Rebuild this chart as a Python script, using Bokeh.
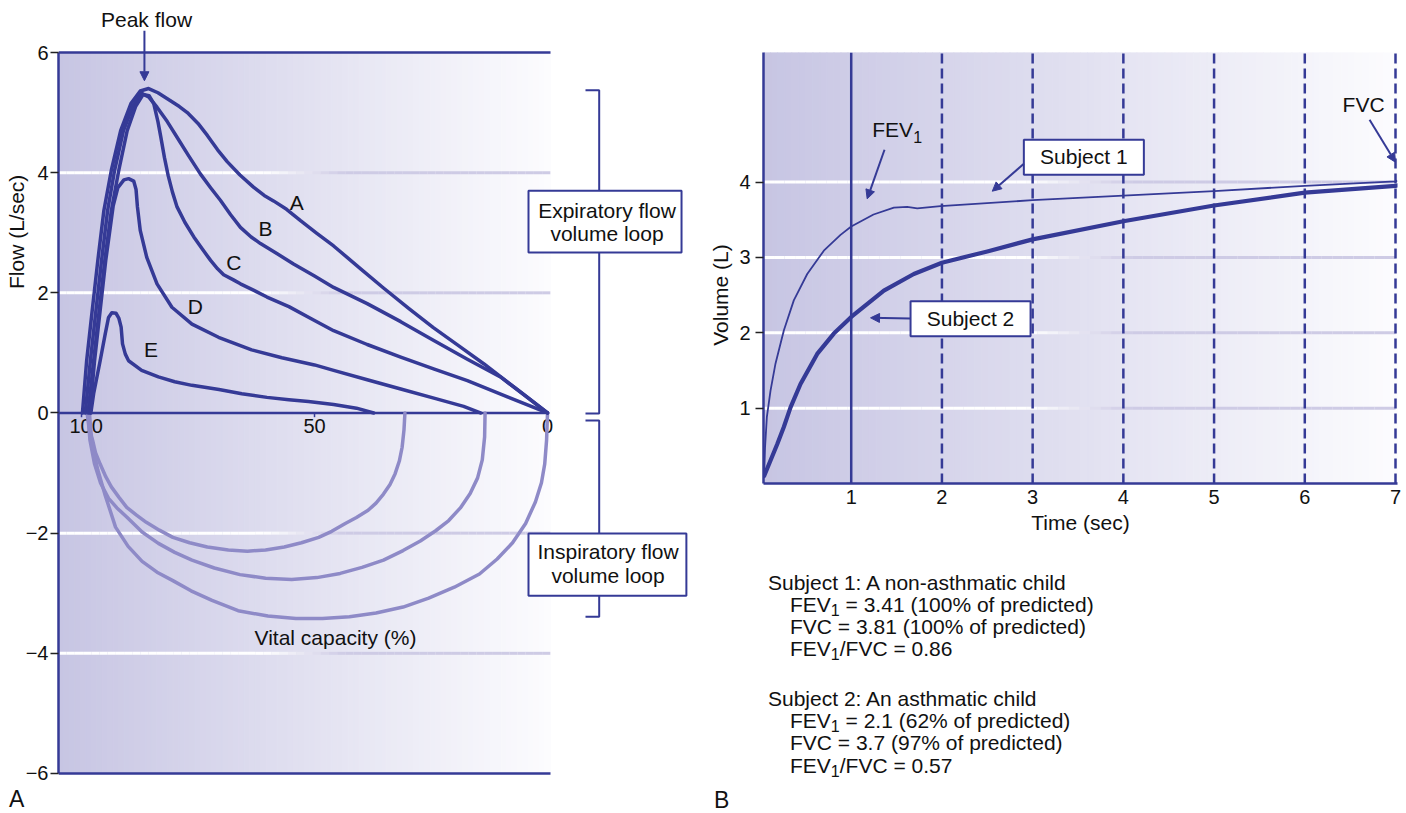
import numpy as np
from bokeh.plotting import figure
from bokeh.models import Range1d, FixedTicker, CustomJSTickFormatter, Arrow, NormalHead, Div, Title
from bokeh.layouts import row, column
from bokeh.embed import file_html
from bokeh.resources import INLINE
from bokeh.core.properties import value

FONT = "Liberation Sans"
DARK = "#353a96"
LOOPC = "#8e8ac7"
TXT = "#111111"
BG_L = (199, 197, 227)
BG_R = (252, 252, 254)
GRID_R = (206, 203, 229)

# ---------------- Panel A: flow-volume loops ----------------
flow_ticks = [-6, -4, -2, 0, 2, 4, 6]
flow_grid = [-4, -2, 2, 4]
vc_ticks = [100, 50, 0]
vc_tick_labels = ["100", "50", "0"]

A_vc = [99.8, 98.9, 97.7, 96.5, 95.2, 93.6, 91.6, 89.4, 87.4, 85.6, 83.6, 81.0, 79.0, 77.3, 75.0, 73.0, 70.8,
        68.7, 66.0, 63.1, 60.8, 58.8, 56.0, 53.0, 49.5, 45.9, 40.1, 35.2, 29.8, 24.5, 19.1, 13.7, 7.0, 0.0]
A_flow = [0.0, 0.87, 1.71, 2.54, 3.37, 4.04, 4.70, 5.15, 5.36, 5.40, 5.33, 5.20, 5.10, 5.00, 4.82, 4.62, 4.38,
          4.18, 3.96, 3.76, 3.62, 3.53, 3.39, 3.20, 2.99, 2.78, 2.40, 2.08, 1.74, 1.42, 1.12, 0.82, 0.42, 0.0]
B_vc = [99.2, 98.1, 96.9, 95.7, 94.4, 92.9, 91.0, 88.9, 87.1, 85.6, 83.8, 81.6, 79.5, 77.0, 74.5, 72.3, 70.2,
        68.0, 65.9, 63.6, 61.6, 58.0, 54.5, 50.0, 45.9, 38.7, 31.5, 24.5, 17.3, 10.1, 5.0, 0.0]
B_flow = [0.0, 0.87, 1.71, 2.54, 3.37, 4.04, 4.70, 5.12, 5.32, 5.26, 5.09, 4.85, 4.59, 4.28, 3.98, 3.75, 3.54,
          3.30, 3.09, 2.93, 2.82, 2.65, 2.48, 2.28, 2.09, 1.82, 1.52, 1.21, 0.90, 0.60, 0.30, 0.0]
C_vc = [98.6, 97.4, 96.2, 95.0, 93.6, 92.0, 90.2, 88.4, 86.8, 85.5, 84.5, 83.6, 83.0, 82.2, 81.4, 80.5, 79.5,
        77.8, 75.9, 74.0, 72.3, 70.8, 69.5, 67.5, 65.9, 63.0, 60.2, 55.5, 50.5, 45.9, 38.7, 31.5, 24.3, 17.2, 8.6, 0.0]
C_flow = [0.0, 0.87, 1.71, 2.54, 3.37, 4.04, 4.70, 5.10, 5.30, 5.28, 5.15, 4.85, 4.60, 4.25, 3.95, 3.68, 3.43,
          3.17, 2.93, 2.72, 2.54, 2.40, 2.30, 2.22, 2.15, 2.04, 1.93, 1.77, 1.56, 1.37, 1.14, 0.93, 0.73, 0.54, 0.27, 0.0]
D_vc = [98.2, 97.2, 96.0, 94.8, 93.9, 93.2, 92.2, 90.9, 89.9, 88.8, 88.3, 88.0, 87.4, 86.0, 83.8, 80.6, 76.3,
        70.6, 63.5, 57.0, 50.0, 45.9, 38.5, 31.5, 24.0, 18.0, 14.4]
D_flow = [0.0, 0.87, 1.71, 2.54, 3.05, 3.45, 3.75, 3.88, 3.90, 3.86, 3.72, 3.43, 3.04, 2.59, 2.15, 1.76, 1.48,
          1.26, 1.05, 0.92, 0.80, 0.71, 0.55, 0.40, 0.24, 0.11, 0.0]
E_vc = [98.0, 97.4, 96.0, 94.9, 94.2, 93.5, 92.6, 92.0, 91.5, 91.2, 90.6, 89.9, 87.1, 83.5, 80.0, 76.3, 70.5,
        65.6, 60.2, 55.5, 51.3, 45.9, 41.0, 37.3]
E_flow = [0.0, 0.32, 0.87, 1.32, 1.59, 1.67, 1.66, 1.58, 1.43, 1.15, 0.98, 0.87, 0.71, 0.60, 0.52, 0.46, 0.39,
          0.32, 0.26, 0.22, 0.19, 0.14, 0.08, 0.0]
exp_curves = [(A_vc, A_flow), (B_vc, B_flow), (C_vc, C_flow), (D_vc, D_flow), (E_vc, E_flow)]
curve_names = ["A", "B", "C", "D", "E"]
curve_label_vc = [53.8, 60.5, 67.3, 75.6, 85.1]
curve_label_flow = [3.50, 3.07, 2.51, 1.77, 1.05]

L1_vc = [98.8, 98.3, 97.6, 97.0, 96.0, 94.8, 93.6, 92.0, 90.3, 88.2, 86.1, 83.3, 80.4, 76.8, 73.0, 68.5, 64.4,
         60.5, 56.5, 52.8, 49.1, 46.3, 43.4, 41.0, 38.5, 36.8, 35.2, 33.8, 32.7, 31.8, 31.2, 30.8, 30.6]
L1_flow = [0.0, -0.30, -0.46, -0.66, -0.85, -1.06, -1.23, -1.40, -1.57, -1.70, -1.82, -1.95, -2.07, -2.16, -2.23,
           -2.28, -2.30, -2.28, -2.23, -2.16, -2.07, -1.97, -1.84, -1.74, -1.62, -1.50, -1.35, -1.19, -1.01, -0.80,
           -0.57, -0.28, 0.0]
L2_vc = [98.6, 98.2, 97.2, 95.9, 94.2, 92.4, 90.3, 87.0, 83.5, 80.0, 76.3, 71.5, 66.0, 60.5, 54.9, 49.5, 44.5,
         39.8, 35.2, 31.0, 27.3, 24.0, 21.2, 18.7, 16.6, 15.0, 14.0, 13.5, 13.4]
L2_flow = [0.0, -0.45, -0.85, -1.17, -1.42, -1.58, -1.73, -1.98, -2.17, -2.32, -2.45, -2.58, -2.69, -2.75, -2.77,
           -2.74, -2.67, -2.57, -2.45, -2.29, -2.13, -1.96, -1.79, -1.58, -1.34, -1.08, -0.78, -0.40, 0.0]
L3_vc = [98.3, 98.0, 97.6, 96.5, 95.0, 92.7, 90.0, 87.0, 83.8, 80.4, 76.5, 72.0, 66.4, 60.0, 54.0, 48.3, 42.5,
         36.8, 31.0, 25.5, 20.0, 14.6, 10.8, 7.5, 4.7, 2.6, 1.3, 0.6, 0.2, 0.0]
L3_flow = [0.0, -0.30, -0.57, -0.95, -1.35, -1.90, -2.22, -2.47, -2.65, -2.79, -2.96, -3.12, -3.29, -3.38, -3.42,
           -3.42, -3.39, -3.33, -3.23, -3.08, -2.90, -2.68, -2.43, -2.16, -1.84, -1.48, -1.16, -0.85, -0.45, 0.0]
insp_loops = [(L1_vc, L1_flow), (L2_vc, L2_flow), (L3_vc, L3_flow)]

# ---------------- Panel B: volume-time curves ----------------
time_ticks = [1, 2, 3, 4, 5, 6, 7]
vol_ticks = [1, 2, 3, 4]
solid_t = [1]
dashed_t = [2, 3, 4, 5, 6, 7]
S1_t = [0.040, 0.050, 0.070, 0.110, 0.165, 0.257, 0.367, 0.515, 0.698, 0.882, 1.000, 1.246, 1.470, 1.617, 1.728,
        1.984, 3.0, 4.0, 5.0, 6.0, 7.0, 7.02]
S1_v = [0.10, 0.48, 0.88, 1.23, 1.59, 2.03, 2.43, 2.78, 3.09, 3.30, 3.41, 3.57, 3.66, 3.67, 3.65, 3.68, 3.76, 3.82,
        3.88, 3.95, 4.01, 4.02]
S2_t = [0.040, 0.184, 0.257, 0.331, 0.441, 0.625, 0.808, 1.000, 1.360, 1.690, 2.000, 2.500, 3.000, 4.000, 5.000,
        6.000, 7.000, 7.02]
S2_v = [0.10, 0.52, 0.75, 1.01, 1.32, 1.72, 1.99, 2.21, 2.56, 2.78, 2.93, 3.08, 3.24, 3.48, 3.69, 3.86, 3.95, 3.955]

block_lines = [
    ("", "Subject 1: A non-asthmatic child"),
    ("FEV", " = 3.41 (100% of predicted)"),
    ("", "FVC = 3.81 (100% of predicted)"),
    ("FEV", "/FVC = 0.86"),
    ("", "Subject 2: An asthmatic child"),
    ("FEV", " = 2.1 (62% of predicted)"),
    ("", "FVC = 3.7 (97% of predicted)"),
    ("FEV", "/FVC = 0.57"),
]
block_indent = [False, True, True, True, False, True, True, True]


def grad_colors(c0, c1, n):
    out = []
    for i in range(n):
        f = (i + 0.5) / n
        out.append("#%02x%02x%02x" % tuple(int(round(a + (b - a) * f)) for a, b in zip(c0, c1)))
    return out


def add_gradient(p, x0, x1, y0, y1, n=90):
    edges = np.linspace(x0, x1, n + 1)
    cols = grad_colors(BG_L, BG_R, n)
    p.quad(left=edges[:-1], right=edges[1:], bottom=y0, top=y1, fill_color=cols, line_color=cols, line_width=1)


def add_grid(p, x0, x1, ys, width=3, n=60):
    edges = np.linspace(x0, x1, n + 1)
    cols = []
    for i in range(n):
        f = (i + 0.5) / n
        w = min(max((f - 0.42) / 0.16, 0.0), 1.0)
        cols.append("#%02x%02x%02x" % tuple(int(round(255 + (g - 255) * w)) for g in GRID_R))
    for y in ys:
        p.segment(x0=edges[:-1], x1=edges[1:], y0=y, y1=y, line_color=cols, line_width=width)


def style_axis(ax, size="20px"):
    ax.axis_line_color = DARK
    ax.axis_line_width = 2.5
    ax.major_tick_line_color = "#222222"
    ax.major_tick_line_width = 1.5
    ax.minor_tick_out = 0
    ax.minor_tick_in = 0
    ax.major_tick_in = 0
    ax.major_label_text_font = FONT
    ax.major_label_text_font_size = size
    ax.major_label_text_color = TXT


def side_title(text, offset, standoff):
    # left-side title anchored at its start (bottom end), offset upward from the frame bottom
    return Title(text=text, align="left", offset=offset, standoff=standoff,
                 text_font=FONT, text_font_size="21px", text_font_style="normal", text_color=TXT)


def txt(p, xs, ys, texts, size="21px", align="center", baseline="middle"):
    p.text(x=xs, y=ys, text=texts, text_font=value(FONT), text_font_size=size, text_color=TXT,
           text_align=align, text_baseline=baseline)


def arrow(p, xs, ys, xe, ye):
    p.add_layout(Arrow(end=NormalHead(size=9, fill_color=DARK, line_color=DARK, line_width=1),
                       x_start=xs, y_start=ys, x_end=xe, y_end=ye, line_color=DARK, line_width=2))


# ======================= Panel A =======================
pA = figure(width=700, height=788, x_range=Range1d(104.94, -32.83), y_range=Range1d(-6.250, 6.8655),
            x_axis_location=None, output_backend="svg", toolbar_location=None,
            min_border_left=58, min_border_right=0, min_border_top=0, min_border_bottom=0)
pA.frame_align = False
pA.outline_line_color = None
pA.grid.visible = False
pA.background_fill_color = "white"
pA.border_fill_color = "white"
ya = pA.yaxis[0]
ya.ticker = FixedTicker(ticks=flow_ticks)
ya.bounds = (-6, 6)
ya.formatter = CustomJSTickFormatter(code="return tick < 0 ? '\u2212' + Math.abs(tick) : String(tick);")
style_axis(ya)
ya.major_tick_out = 8
ya.major_label_standoff = 2
pA.add_layout(side_title("Flow (L/sec)", 499.5, -10), "left")

add_gradient(pA, 104.94, -0.6, -6, 6)
add_grid(pA, 104.94, -0.6, flow_grid)
pA.segment(x0=104.94, x1=-0.64, y0=[6, -6], y1=[6, -6], line_color=DARK, line_width=2.5)
pA.segment(x0=104.94, x1=-0.3, y0=0, y1=0, line_color=DARK, line_width=2.5)
pA.segment(x0=vc_ticks, x1=vc_ticks, y0=0, y1=-0.07, line_color=DARK, line_width=1.5)
txt(pA, [99.0, 50, 0], [-0.216] * 3, vc_tick_labels, size="20px")

for xs, ys in insp_loops:
    pA.line(xs, ys, line_color=LOOPC, line_width=3.5, line_join="round", line_cap="round")
for xs, ys in exp_curves:
    pA.line(xs, ys, line_color=DARK, line_width=3.5, line_join="round", line_cap="round")

txt(pA, curve_label_vc, curve_label_flow, curve_names)
txt(pA, [86.05], [6.55], ["Peak flow"])
arrow(pA, 86.5, 6.36, 86.5, 5.53)
txt(pA, [45.5], [-3.737], ["Vital capacity (%)"])

pA.line([-8.15, -11.09, -11.09, -8.15], [5.37, 5.37, -0.01, -0.01], line_color=DARK, line_width=2)
pA.line([-8.15, -11.09, -11.09, -8.15], [-0.125, -0.125, -3.39, -3.39], line_color=DARK, line_width=2)
pA.quad(left=[4.08, 4.08], right=[-28.76, -29.8], top=[3.70, -2.006], bottom=[2.67, -3.04],
        fill_color="white", line_color=DARK, line_width=2)
txt(pA, [-12.77, -12.77], [3.375, 2.984], ["Expiratory flow", "volume loop"])
txt(pA, [-12.99, -12.99], [-2.305, -2.705], ["Inspiratory flow", "volume loop"])

divA = Div(text=('<div style="position:relative;width:700px;height:24px;">'
                 '<div style="position:absolute;left:9px;top:0px;font-family:\'Liberation Sans\';'
                 'font-size:23px;line-height:23px;color:#111;">A</div></div>'),
           width=700, height=24, margin=(0, 0, 0, 0))

# ======================= Panel B =======================
pB = figure(width=706, height=540, x_range=Range1d(0.033, 7.022), y_range=Range1d(0, 5.72),
            output_backend="svg", toolbar_location=None,
            min_border_left=63, min_border_right=9, min_border_top=52, min_border_bottom=57)
pB.frame_align = False
pB.outline_line_color = None
pB.grid.visible = False
pB.background_fill_color = "white"
pB.border_fill_color = "white"
xb = pB.xaxis[0]
yb = pB.yaxis[0]
xb.ticker = FixedTicker(ticks=time_ticks)
yb.ticker = FixedTicker(ticks=vol_ticks)
style_axis(xb)
style_axis(yb)
xb.major_tick_out = 0
xb.major_label_standoff = 6
yb.major_tick_out = 8
yb.major_label_standoff = 5
xb.axis_label = "Time (sec)"
xb.axis_label_text_font = FONT
xb.axis_label_text_font_size = "21px"
xb.axis_label_text_font_style = "normal"
xb.axis_label_text_color = TXT
xb.axis_label_standoff = 4
pB.add_layout(side_title("Volume (L)", 137.7, 10), "left")

add_gradient(pB, 0.033, 7.022, 0, 5.72)
add_grid(pB, 0.033, 7.0, vol_ticks)
pB.segment(x0=solid_t, x1=solid_t, y0=0, y1=5.72, line_color=DARK, line_width=2.5)
pB.segment(x0=dashed_t, x1=dashed_t, y0=0, y1=5.72, line_color=DARK, line_width=2.5, line_dash="10 5")

pB.line(S1_t, S1_v, line_color=DARK, line_width=1.8, line_join="round")
pB.line(S2_t, S2_v, line_color=DARK, line_width=4.2, line_join="round", line_cap="round")

arrow(pB, 1.367, 4.429, 1.176, 3.778)
arrow(pB, 2.903, 4.243, 2.555, 3.879)
arrow(pB, 1.654, 2.19, 1.213, 2.199)
arrow(pB, 6.714, 4.827, 7.0, 4.264)

pB.quad(left=[2.903, 1.654], right=[4.226, 2.977], top=[4.561, 2.419], bottom=[4.097, 1.955],
        fill_color="white", line_color=DARK, line_width=2)
txt(pB, [3.564, 2.315], [4.340, 2.196], ["Subject 1", "Subject 2"])
txt(pB, [6.648], [5.027], ["FVC"])
txt(pB, [1.231], [4.695], ["FEV"], align="left")
txt(pB, [1.684], [4.605], ["1"], size="16px", align="left")

# text block under panel B (HTML, positioned in page pixels relative to the div)
DIV_TOP = 540
line_px = [582, 604, 626, 648, 698, 720, 742.5, 765]
parts = []
for (pre, rest), ind, py in zip(block_lines, block_indent, line_px):
    left = 90 if ind else 68
    top = py - 10.3 - DIV_TOP
    if pre:
        content = (pre + '<span style="font-size:16px;position:relative;top:4px;">1</span>' + rest)
    else:
        content = rest
    parts.append('<div style="position:absolute;left:%dpx;top:%.1fpx;white-space:pre;">%s</div>'
                 % (left, top, content))
parts.append('<div style="position:absolute;left:14px;top:%.1fpx;font-size:23px;line-height:23px;">B</div>'
             % (800 - 11.3 - DIV_TOP))
divB = Div(text=('<div style="position:relative;width:706px;height:272px;font-family:\'Liberation Sans\';'
                 'font-size:21px;line-height:21px;color:#111;">' + "".join(parts) + '</div>'),
           width=706, height=272, margin=(0, 0, 0, 0))

layout = row(column(pA, divA), column(pB, divB))
open("out.html", "w").write(file_html(layout, INLINE))
